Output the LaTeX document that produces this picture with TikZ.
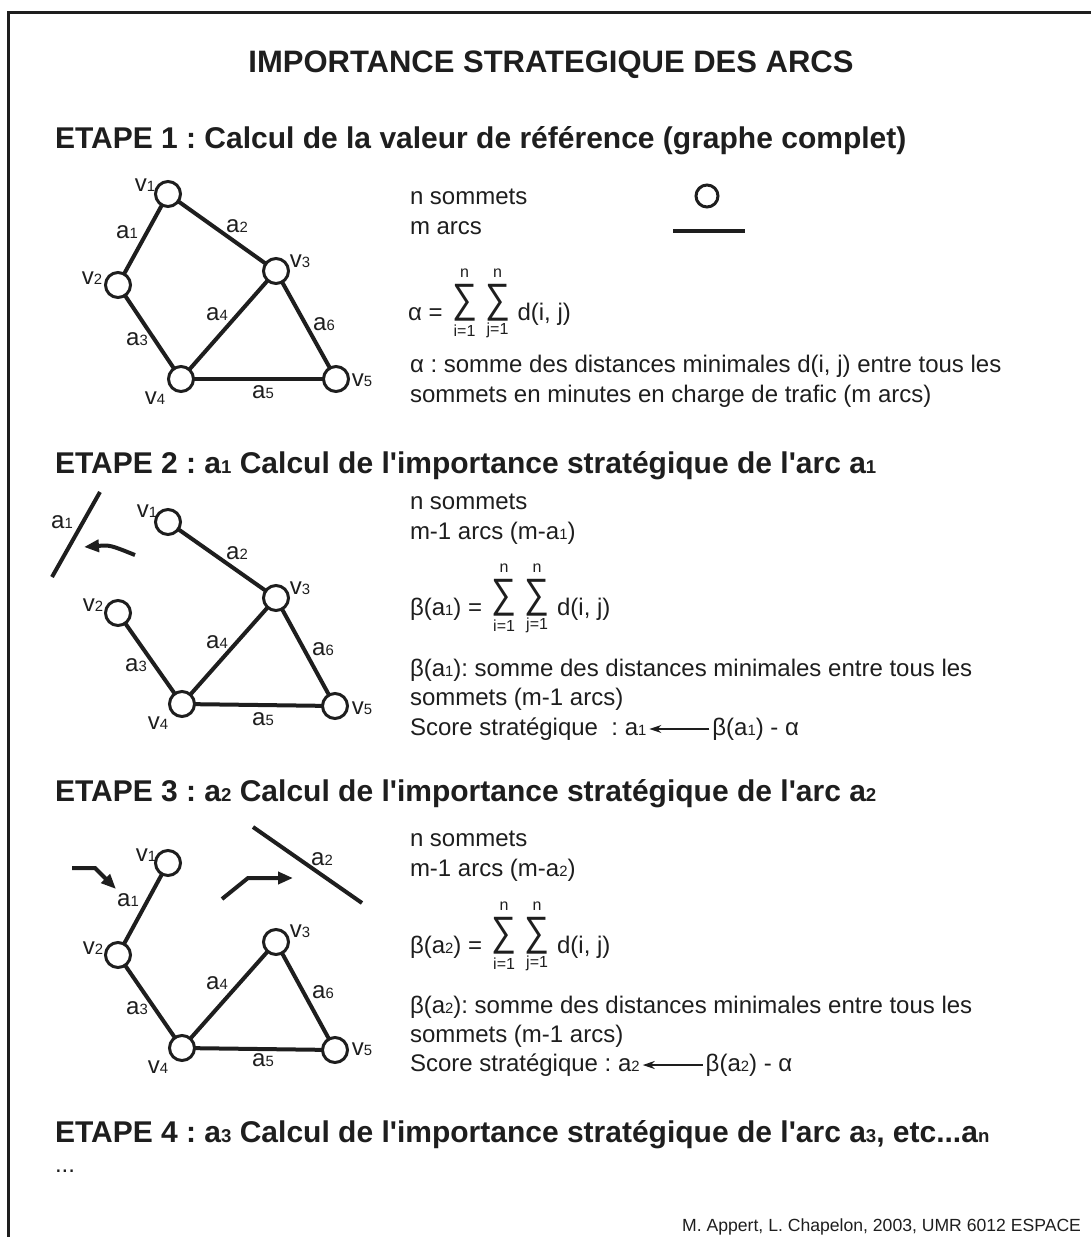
\documentclass[tikz,border=0pt]{standalone}
\usepackage{fontspec}
\setmainfont{Liberation Sans}[Ligatures=TeXOff]
\usetikzlibrary{arrows.meta}
\definecolor{ink}{HTML}{1E1E1E}
\frenchspacing
\newcommand\sbs[1]{\scalebox{0.62}{#1}}
\newcommand\dsum[1]{%
\node[sig] (#1s1) at ([shift={(22pt,17.5pt)}]#1.base east) {\scalebox{0.85}[1]{∑}};
\node[lim] (#1n1) at ([yshift=29pt]#1s1.center) {n};
\node[lim] (#1i1) at ([yshift=-28pt]#1s1.center) {i=1};
\node[sig] (#1s2) at ([xshift=33pt]#1s1.center) {\scalebox{0.85}[1]{∑}};
\node[lim] (#1n2) at ([yshift=29pt]#1s2.center) {n};
\node[lim] (#1i2) at ([yshift=-28pt]#1s2.center) {j=1};
\node[body] (#1d) at ([shift={(20pt,-17.5pt)}]#1s2.center) {d(i, j)};
}
\begin{document}
\begin{tikzpicture}[x=1pt,y=-1pt,
  every node/.style={inner sep=0pt, outer sep=0pt, text=ink},
  title/.style={font=\fontsize{31}{35}\bfseries\selectfont},
  head/.style={font=\fontsize{30}{34}\bfseries\selectfont, anchor=base west},
  body/.style={font=\fontsize{24}{28}\selectfont, anchor=base west},
  lbl/.style={font=\fontsize{24}{28}\selectfont},
  lim/.style={font=\fontsize{16}{19}\selectfont},
  sig/.style={font=\fontsize{41}{44}\selectfont},
  vtx/.style={circle, draw=ink, line width=3pt, minimum size=25pt, fill=white},
  edge/.style={draw=ink, line width=4pt},
  mv/.style={draw=ink, line width=4pt, -{Triangle[length=15pt,width=12pt]}},
  sarr/.style={draw=ink, line width=1.4pt, -{Stealth[length=12pt,width=8pt]}},
]
\useasboundingbox (0,0) rectangle (1090,1237);
\draw[ink, line width=3pt] (8.5,1260) -- (8.5,12.5) -- (1110,12.5);

\node[title] (tt) at (551,65) {IMPORTANCE STRATEGIQUE DES ARCS};

% ---------------- ETAPE 1
\node[head] (h1) at (55,148) {ETAPE 1 : Calcul de la valeur de référence (graphe complet)};
\node[vtx] (av1) at (168,194) {};
\node[vtx] (av2) at (118,285) {};
\node[vtx] (av3) at (276,271) {};
\node[vtx] (av4) at (181,379) {};
\node[vtx] (av5) at (336,379) {};
\draw[edge] (av1) -- (av2);
\draw[edge] (av1) -- (av3);
\draw[edge] (av2) -- (av4);
\draw[edge] (av3) -- (av4);
\draw[edge] (av4) -- (av5);
\draw[edge] (av3) -- (av5);
\node[lbl] (alv1) at (145,185) {v\sbs1};
\node[lbl] (alv2) at (92,278) {v\sbs2};
\node[lbl] (alv3) at (300,261) {v\sbs3};
\node[lbl] (alv4) at (155,398) {v\sbs4};
\node[lbl] (alv5) at (362,380) {v\sbs5};
\node[lbl] (ala1) at (127,232) {a\sbs1};
\node[lbl] (ala2) at (237,226) {a\sbs2};
\node[lbl] (ala3) at (137,339) {a\sbs3};
\node[lbl] (ala4) at (217,314) {a\sbs4};
\node[lbl] (ala5) at (263,392) {a\sbs5};
\node[lbl] (ala6) at (324,324) {a\sbs6};

\node[body] (t1a) at (410,204) {n sommets};
\node[body] (t1b) at (410,234) {m arcs};
\node[vtx, minimum size=22pt] (symv) at (707,196) {};
\coordinate (syml) at (673,231);
\coordinate (symr) at (745,231);
\draw[ink, line width=4.5pt] (syml) -- (symr);
\node[body] (fa) at (408,320) {α =};
\dsum{fa}
\node[body] (t1c) at (410,372) {α : somme des distances minimales d(i, j) entre tous les};
\node[body] (t1d) at (410,402) {sommets en minutes en charge de trafic (m arcs)};

% ---------------- ETAPE 2
\node[head] (h2) at (55,473) {ETAPE 2 : a\sbs1 Calcul de l'importance stratégique de l'arc a\sbs1};
\node[vtx] (bv1) at (168,522) {};
\node[vtx] (bv2) at (118,613) {};
\node[vtx] (bv3) at (276,598) {};
\node[vtx] (bv4) at (182,704) {};
\node[vtx] (bv5) at (335,706) {};
\draw[edge] (bv1) -- (bv3);
\draw[edge] (bv2) -- (bv4);
\draw[edge] (bv3) -- (bv4);
\draw[edge] (bv4) -- (bv5);
\draw[edge] (bv3) -- (bv5);
\node[lbl] (blv1) at (147,511) {v\sbs1};
\node[lbl] (blv2) at (93,605) {v\sbs2};
\node[lbl] (blv3) at (300,588) {v\sbs3};
\node[lbl] (blv4) at (158,723) {v\sbs4};
\node[lbl] (blv5) at (362,708) {v\sbs5};
\node[lbl] (bla1) at (62,522) {a\sbs1};
\node[lbl] (bla2) at (237,553) {a\sbs2};
\node[lbl] (bla3) at (136,665) {a\sbs3};
\node[lbl] (bla4) at (217,642) {a\sbs4};
\node[lbl] (bla5) at (263,719) {a\sbs5};
\node[lbl] (bla6) at (323,649) {a\sbs6};
\coordinate (bbar1) at (100,492);
\coordinate (bbar2) at (52,577);
\draw[edge] (bbar1) -- (bbar2);
\coordinate (bm1) at (135,555);
\coordinate (bm2) at (84,547);
\draw[mv] (bm1) .. controls (110,545) .. (bm2);

\node[body] (t2a) at (410,509) {n sommets};
\node[body] (t2b) at (410,539) {m-1 arcs (m-a\sbs1)};
\node[body] (fb) at (410,615) {β(a\sbs1) =};
\dsum{fb}
\node[body] (t2c) at (410,676) {β(a\sbs1): somme des distances minimales entre tous les};
\node[body] (t2d) at (410,705) {sommets (m-1 arcs)};
\node[body] (sc2) at (410,735) {Score stratégique\ \ : a\sbs1};
\node[body] (bt2) at ([xshift=66pt]sc2.base east) {β(a\sbs1) - α};
\draw[sarr] ([shift={(-3pt,6pt)}]bt2.base west) -- ([shift={(3pt,6pt)}]sc2.base east);

% ---------------- ETAPE 3
\node[head] (h3) at (55,801) {ETAPE 3 : a\sbs2 Calcul de l'importance stratégique de l'arc a\sbs2};
\node[vtx] (cv1) at (168,863) {};
\node[vtx] (cv2) at (118,955) {};
\node[vtx] (cv3) at (276,942) {};
\node[vtx] (cv4) at (182,1048) {};
\node[vtx] (cv5) at (335,1050) {};
\draw[edge] (cv1) -- (cv2);
\draw[edge] (cv2) -- (cv4);
\draw[edge] (cv3) -- (cv4);
\draw[edge] (cv4) -- (cv5);
\draw[edge] (cv3) -- (cv5);
\node[lbl] (clv1) at (146,855) {v\sbs1};
\node[lbl] (clv2) at (93,948) {v\sbs2};
\node[lbl] (clv3) at (300,931) {v\sbs3};
\node[lbl] (clv4) at (158,1067) {v\sbs4};
\node[lbl] (clv5) at (362,1049) {v\sbs5};
\node[lbl] (cla1) at (128,900) {a\sbs1};
\node[lbl] (cla2) at (322,859) {a\sbs2};
\node[lbl] (cla3) at (137,1008) {a\sbs3};
\node[lbl] (cla4) at (217,983) {a\sbs4};
\node[lbl] (cla5) at (263,1060) {a\sbs5};
\node[lbl] (cla6) at (323,992) {a\sbs6};
\coordinate (cbar1) at (253,827);
\coordinate (cbar2) at (362,903);
\draw[edge] (cbar1) -- (cbar2);
\coordinate (cm1a) at (72,868);
\coordinate (cm1b) at (95,868);
\coordinate (cm1c) at (116,889);
\draw[mv] (cm1a) -- (cm1b) -- (cm1c);
\coordinate (cm2a) at (222,899);
\coordinate (cm2b) at (248,878);
\coordinate (cm2c) at (293,878);
\draw[mv] (cm2a) -- (cm2b) -- (cm2c);

\node[body] (t3a) at (410,846) {n sommets};
\node[body] (t3b) at (410,876) {m-1 arcs (m-a\sbs2)};
\node[body] (fc) at (410,953) {β(a\sbs2) =};
\dsum{fc}
\node[body] (t3c) at (410,1013) {β(a\sbs2): somme des distances minimales entre tous les};
\node[body] (t3d) at (410,1042) {sommets (m-1 arcs)};
\node[body] (sc3) at (410,1071) {Score stratégique : a\sbs2};
\node[body] (bt3) at ([xshift=66pt]sc3.base east) {β(a\sbs2) - α};
\draw[sarr] ([shift={(-3pt,6pt)}]bt3.base west) -- ([shift={(3pt,6pt)}]sc3.base east);

% ---------------- ETAPE 4
\node[head] (h4) at (55,1142) {ETAPE 4 : a\sbs3 Calcul de l'importance stratégique de l'arc a\sbs3, etc...a\sbs{n}};
\node[body] (dots) at (55,1172) {...};

\node[font=\fontsize{17.6}{20}\selectfont, anchor=base east] (cr) at (1081,1231) {M. Appert, L. Chapelon, 2003, UMR 6012 ESPACE};
\end{tikzpicture}
\end{document}
